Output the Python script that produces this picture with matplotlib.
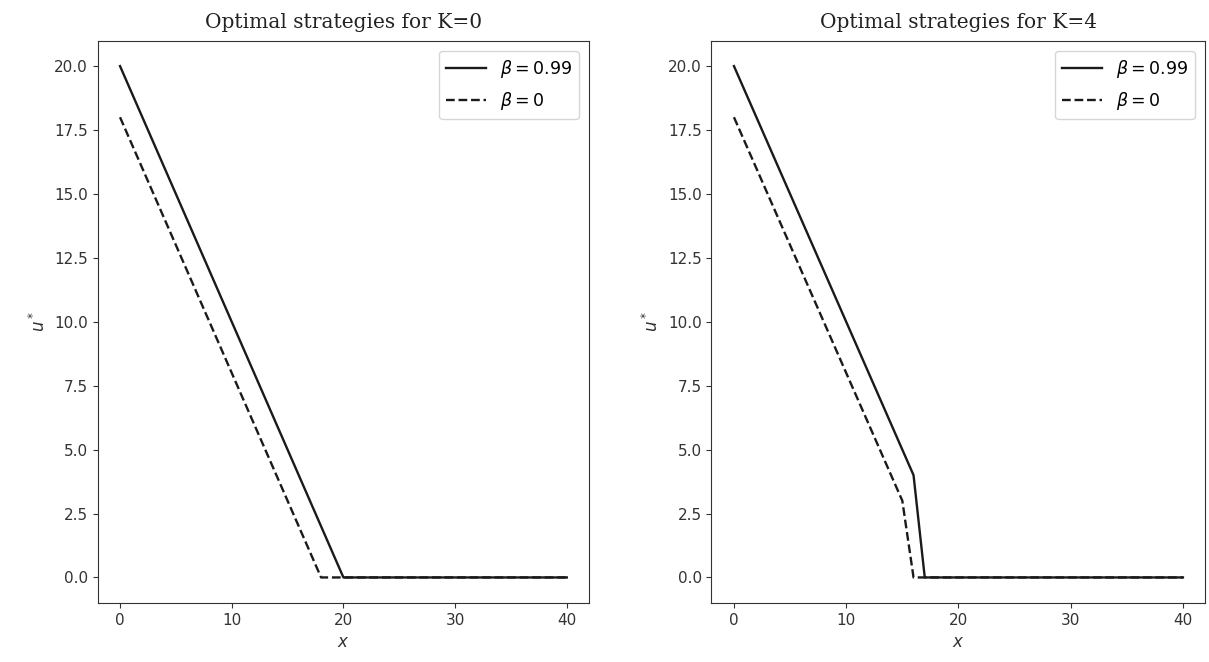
import matplotlib

matplotlib.use("Agg")
import matplotlib.pyplot as plt
import numpy as np

# state grid and optimal controls u*(x) for the two discount factors
x = np.arange(0, 41)

# K = 0
u_k0_beta099 = np.array([20, 19, 18, 17, 16, 15, 14, 13, 12, 11, 10, 9, 8, 7, 6, 5, 4, 3, 2, 1, 0]
                        + [0] * 20, dtype=float)
u_k0_beta0 = np.array([18, 17, 16, 15, 14, 13, 12, 11, 10, 9, 8, 7, 6, 5, 4, 3, 2, 1, 0]
                      + [0] * 22, dtype=float)

# K = 4
u_k4_beta099 = np.array([20, 19, 18, 17, 16, 15, 14, 13, 12, 11, 10, 9, 8, 7, 6, 5, 4, 0]
                        + [0] * 23, dtype=float)
u_k4_beta0 = np.array([18, 17, 16, 15, 14, 13, 12, 11, 10, 9, 8, 7, 6, 5, 4, 3, 0]
                      + [0] * 24, dtype=float)

panels = [
    ("Optimal strategies for K=0", u_k0_beta099, u_k0_beta0),
    ("Optimal strategies for K=4", u_k4_beta099, u_k4_beta0),
]

fig = plt.figure(figsize=(12.09, 6.62), dpi=100)
ax_rects = [
    (0.0808, 0.0891, 0.4065, 0.8497),
    (0.5885, 0.0891, 0.4085, 0.8497),
]

for rect, (title, u_hi, u_lo) in zip(ax_rects, panels):
    ax = fig.add_axes(rect)
    ax.plot(x, u_hi, color="#1a1a1a", linestyle="-", linewidth=1.7, label=r"$\beta=0.99$")
    ax.plot(x, u_lo, color="#1a1a1a", linestyle="--", linewidth=1.7,
            dashes=(3.7, 1.6), label=r"$\beta=0$")
    ax.set_xlim(-2, 42)
    ax.set_ylim(-1, 21)
    ax.set_xticks([0, 10, 20, 30, 40])
    ax.set_yticks(np.arange(0, 20.1, 2.5))
    ax.set_yticklabels([f"{v:.1f}" for v in np.arange(0, 20.1, 2.5)])
    ax.tick_params(labelsize=11, colors="#333333")
    for sp in ax.spines.values():
        sp.set_color("#333333")
    ax.set_title(title, family="DejaVu Serif", fontsize=14.5, color="#222222", pad=9)
    ax.set_xlabel(r"$x$", fontsize=12, color="#333333")
    ax.set_ylabel(r"$u^*$", fontsize=12, color="#333333")
    ax.legend(loc="upper right", fontsize=12.5, handlelength=2.3,
              borderaxespad=0.6, labelspacing=0.6)

fig.savefig("out.png", dpi=100, facecolor="white")
